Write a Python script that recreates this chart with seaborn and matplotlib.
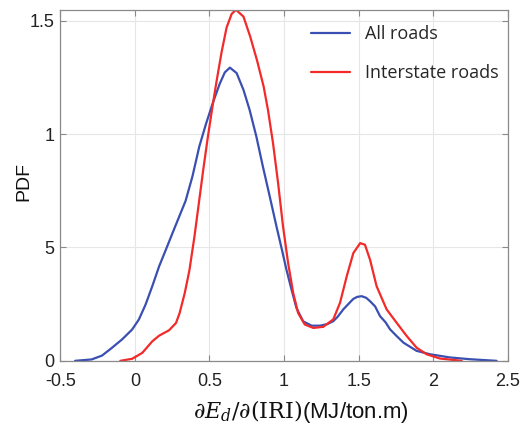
import pandas as pd
import matplotlib.pyplot as plt
import seaborn as sns
import numpy as np

# density curves
all_x = [-0.40, -0.29, -0.22, -0.154, -0.086, -0.018, 0.027, 0.072, 0.117, 0.163, 0.208, 0.253,
         0.298, 0.34, 0.386, 0.432, 0.477, 0.524, 0.569, 0.603, 0.637, 0.682, 0.728, 0.769, 0.814,
         0.858, 0.904, 0.949, 0.982, 1.016, 1.05, 1.083, 1.128, 1.185, 1.241, 1.29, 1.33, 1.36,
         1.397, 1.43, 1.464, 1.49, 1.52, 1.55, 1.576, 1.61, 1.643, 1.68, 1.71, 1.75, 1.80, 1.888,
         1.978, 2.11, 2.245, 2.424]
all_y = [0.0, 0.006, 0.023, 0.057, 0.094, 0.138, 0.182, 0.248, 0.329, 0.417, 0.49, 0.564,
         0.637, 0.705, 0.813, 0.945, 1.045, 1.14, 1.222, 1.272, 1.293, 1.269, 1.195, 1.107, 0.99,
         0.857, 0.725, 0.593, 0.50, 0.402, 0.314, 0.233, 0.174, 0.155, 0.155, 0.162, 0.175, 0.195,
         0.227, 0.25, 0.273, 0.282, 0.285, 0.278, 0.263, 0.24, 0.197, 0.17, 0.139, 0.112, 0.08, 0.044,
         0.029, 0.015, 0.007, 0.0]

inter_x = [-0.097, -0.018, 0.05, 0.117, 0.163, 0.23, 0.276, 0.30, 0.335, 0.366, 0.40, 0.43, 0.46,
           0.49, 0.52, 0.547, 0.581, 0.615, 0.649, 0.678, 0.728, 0.773, 0.818, 0.863, 0.892, 0.926,
           0.96, 0.993, 1.027, 1.061, 1.094, 1.139, 1.196, 1.263, 1.33, 1.375, 1.42, 1.464, 1.51,
           1.542, 1.576, 1.62, 1.687, 1.754, 1.821, 1.888, 1.955, 2.045, 2.19]
inter_y = [0.0, 0.009, 0.035, 0.086, 0.111, 0.135, 0.167, 0.21, 0.30, 0.40, 0.55, 0.70, 0.85,
           0.99, 1.12, 1.23, 1.36, 1.47, 1.53, 1.548, 1.518, 1.43, 1.327, 1.21, 1.107, 0.96,
           0.784, 0.593, 0.432, 0.30, 0.211, 0.16, 0.145, 0.15, 0.183, 0.256, 0.373, 0.475, 0.519,
           0.512, 0.446, 0.329, 0.227, 0.168, 0.11, 0.058, 0.029, 0.01, 0.0]

x_ticks = [-0.5, 0, 0.5, 1, 1.5, 2, 2.5]
x_ticklabels = ['-0.5', '0', '0.5', '1', '1.5', '2', '2.5']
y_ticks = [0, 0.5, 1, 1.5]
y_ticklabels = ['0', '5', '1', '1.5']

df = pd.concat([
    pd.DataFrame({'x': all_x, 'pdf': all_y, 'group': 'All roads'}),
    pd.DataFrame({'x': inter_x, 'pdf': inter_y, 'group': 'Interstate roads'}),
])

sns.set_style('white')
plt.rcParams['font.family'] = ['Liberation Sans', 'DejaVu Sans']
plt.rcParams['mathtext.fontset'] = 'dejavuserif'

fig = plt.figure(figsize=(5.28, 4.26), dpi=100)
ax = fig.add_axes([0.114, 0.153, 0.848, 0.824])

sns.lineplot(data=df, x='x', y='pdf', hue='group', sort=False,
             palette={'All roads': '#3a4fb2', 'Interstate roads': '#f22a2a'},
             linewidth=1.6, solid_joinstyle='round', ax=ax)

ax.set_xlim(-0.5, 2.5)
ax.set_ylim(0, 1.548)
ax.set_xticks(x_ticks)
ax.set_xticklabels(x_ticklabels)
ax.set_yticks(y_ticks)
ax.set_yticklabels(y_ticklabels)
ax.grid(True, color='#e6e6e6', linewidth=0.8)
ax.set_axisbelow(True)
for s in ax.spines.values():
    s.set_color('#8a8a8a')
    s.set_linewidth(0.9)
ax.tick_params(direction='in', length=4, color='#8a8a8a', labelsize=13, labelcolor='#222222',
               top=True, right=True, bottom=True, left=True)
ax.tick_params(axis='x', pad=9)
ax.tick_params(axis='y', pad=4)
ax.set_xlabel(r'$\partial E_d/\partial(\mathrm{IRI})$(MJ/ton.m)', fontsize=16, color='#111111')
ax.xaxis.set_label_coords(0.538, -0.105)
ax.set_ylabel('PDF', fontsize=14, color='#111111')
ax.yaxis.set_label_coords(-0.0625, 0.51)

leg = ax.legend(loc='upper right', frameon=False, fontsize=13, handlelength=2.2,
                labelspacing=1.15, borderaxespad=0.0, bbox_to_anchor=(0.995, 0.976))
for t in leg.get_texts():
    t.set_family(['Open Sans', 'DejaVu Sans'])

fig.savefig('out.png', dpi=100)
